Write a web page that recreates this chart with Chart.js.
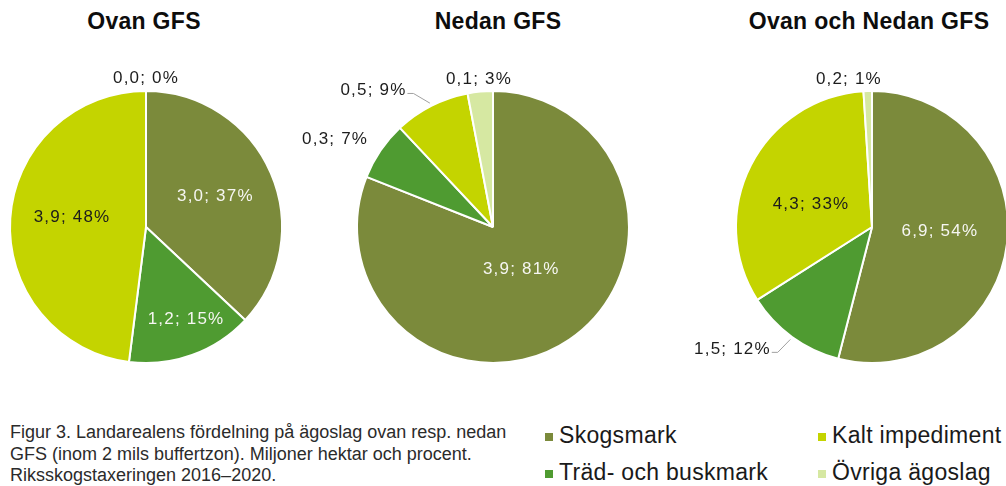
<!DOCTYPE html>
<html lang="sv">
<head>
<meta charset="utf-8">
<script src="https://cdn.jsdelivr.net/npm/chart.js@4"></script>
<style>
  html, body { margin: 0; padding: 0; background: #fff; }
  body { width: 1006px; height: 486px; position: relative; overflow: hidden; font-family: "Liberation Sans", Arial, sans-serif; }
  .pie { position: absolute; top: 57px; width: 420px; height: 340px; }
  .title { position: absolute; top: 8px; font-weight: bold; font-size: 23px; letter-spacing: 0.3px; color: #0d0d0d; transform: translateX(-50%); white-space: nowrap; }
  .caption { position: absolute; left: 10px; top: 422px; font-size: 18px; line-height: 21.5px; color: #2b2b2b; }
  .leg { position: absolute; font-size: 23px; line-height: 23px; color: #1a1a1a; white-space: nowrap; letter-spacing: 0.3px; }
  .leg i { position: absolute; left: -14px; top: 9px; width: 8px; height: 8px; }
</style>
</head>
<body>
<canvas id="pie0" class="pie" width="420" height="340"></canvas>
<canvas id="pie1" class="pie" width="420" height="340"></canvas>
<canvas id="pie2" class="pie" width="420" height="340"></canvas>
<div id="titles"></div>
<div class="caption">Figur 3. Landarealens fördelning på ägoslag ovan resp. nedan<br>GFS (inom 2 mils buffertzon). Miljoner hektar och procent.<br>Riksskogstaxeringen 2016–2020.</div>
<div id="legend"></div>
<script>
// =============================================
// データ
// =============================================
const categories = ['Skogsmark', 'Träd- och buskmark', 'Kalt impediment', 'Övriga ägoslag']
const colors     = ['#7b8a3b', '#4f9b31', '#c4d400', '#d6e8a2']
const titles     = ['Ovan GFS', 'Nedan GFS', 'Ovan och Nedan GFS']

// miljoner hektar / procent
const ovanHa   = [3.0, 1.2, 3.9, 0.0]
const ovanPct  = [37, 15, 48, 0]
const nedanHa  = [3.9, 0.3, 0.5, 0.1]
const nedanPct = [81, 7, 9, 3]
const allaHa   = [6.9, 1.5, 4.3, 0.2]
const allaPct  = [54, 12, 33, 1]

// =============================================
// レイアウト（ラベル配置）
// =============================================
const pies = [
  { ha: ovanHa,  pct: ovanPct,  cx: 145.5, titleX: 144,
    dist: [0.56, 0.73, 0.55, 1.10], shift: [-1, -4, 5, 0],   leader: [0, 0, 0, 0] },
  { ha: nedanHa, pct: nedanPct, cx: 492.7, titleX: 498,
    dist: [0.37, 1.33, 1.34, 1.10], shift: [0, -5, -14, 0],  leader: [0, 0, 1, 0] },
  { ha: allaHa,  pct: allaPct,  cx: 872,   titleX: 869,
    dist: [0.50, 1.36, 0.48, 1.11], shift: [-4, 13, -6, -7], leader: [0, 1, 0, 0] },
]
const insideColors = ['#f6f6f2', '#f6f6f2', '#1c1c1c', '#1c1c1c']

const fmt = (h, p) => `${h.toFixed(1).replace('.', ',')}; ${p}%`

// =============================================
// スライスラベル plugin
// =============================================
const sliceLabels = {
  id: 'sliceLabels',
  afterDatasetsDraw(chart, _args, opts) {
    const { ctx } = chart
    const meta = chart.getDatasetMeta(0)
    ctx.save()
    ctx.font = '17px "Liberation Sans", Arial, sans-serif'
    ctx.letterSpacing = '1.2px'
    ctx.textAlign = 'center'
    ctx.textBaseline = 'middle'
    meta.data.forEach((arc, i) => {
      const { x, y, startAngle, endAngle, outerRadius } =
        arc.getProps(['x', 'y', 'startAngle', 'endAngle', 'outerRadius'], true)
      const mid = (startAngle + endAngle) / 2
      const a   = mid + opts.shift[i] * Math.PI / 180
      const r   = outerRadius * opts.dist[i]
      const lx  = x + Math.cos(a) * r
      const ly  = y + Math.sin(a) * r
      const text = opts.texts[i]
      if (opts.leader[i]) {
        const w  = ctx.measureText(text).width
        const sx = lx + w / 2 + 1
        ctx.strokeStyle = '#a0a0a0'
        ctx.lineWidth = 1
        ctx.beginPath()
        ctx.moveTo(sx, ly + 4)
        ctx.lineTo(sx + 6, ly + 4)
        ctx.lineTo(x + Math.cos(mid) * (outerRadius + 3), y + Math.sin(mid) * (outerRadius + 3))
        ctx.stroke()
      }
      ctx.fillStyle = opts.dist[i] > 1 ? '#1c1c1c' : insideColors[i]
      ctx.fillText(text, lx, ly + 1)
    })
    ctx.restore()
  }
}

// =============================================
// 描画
// =============================================
pies.forEach((p, k) => {
  const canvas = document.getElementById('pie' + k)
  canvas.style.left = (p.cx - 210) + 'px'

  const t = document.createElement('div')
  t.className = 'title'
  t.style.left = p.titleX + 'px'
  t.textContent = titles[k]
  document.getElementById('titles').appendChild(t)

  new Chart(canvas, {
    type: 'pie',
    data: {
      labels: categories,
      datasets: [{
        data: p.pct,
        backgroundColor: colors,
        borderColor: '#ffffff',
        borderWidth: 2,
        hoverBorderWidth: 2,
        hoverOffset: 0,
      }]
    },
    options: {
      responsive: false,
      animation: false,
      devicePixelRatio: 1,
      layout: { padding: { left: 73, right: 73, top: 33, bottom: 33 } },
      plugins: {
        legend: { display: false },
        tooltip: { enabled: false },
        sliceLabels: {
          texts: p.ha.map((h, i) => fmt(h, p.pct[i])),
          dist: p.dist, shift: p.shift, leader: p.leader
        }
      }
    },
    plugins: [sliceLabels]
  })
})

// legend（2列）
const legendPos = [[559, 423.5], [559, 460.5], [832, 423.5], [832, 460.5]]
const legend = document.getElementById('legend')
categories.forEach((c, i) => {
  const d = document.createElement('div')
  d.className = 'leg'
  d.style.left = legendPos[i][0] + 'px'
  d.style.top  = legendPos[i][1] + 'px'
  d.innerHTML = `<i style="background:${colors[i]}"></i>${c}`
  legend.appendChild(d)
})
</script>
</body>
</html>
